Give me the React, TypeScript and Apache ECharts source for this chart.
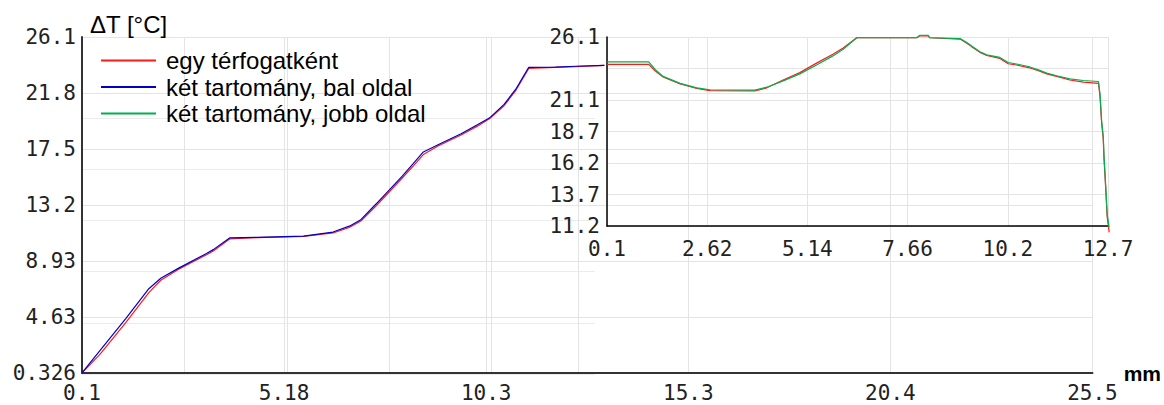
import React, { useEffect, useRef } from "react";
import * as echarts from "echarts";

// ---- main chart (0.1 .. 25.5 mm), visible left part of the curves ----
const mainX = [0.1, 0.55, 1.2, 1.78, 2.08, 2.53, 3.23, 3.4, 3.81, 4.51, 5.67, 6.41, 6.82, 7.11, 7.49, 8.15, 8.48, 8.68, 9.05, 9.63, 10.05, 10.34, 10.71, 11.0, 11.33, 12.0, 12.51, 13.23];
const mainRed = [0.33, 1.75, 4.2, 6.5, 7.45, 8.3, 9.4, 9.7, 10.62, 10.72, 10.82, 11.08, 11.5, 12.0, 13.15, 15.3, 16.4, 17.1, 17.75, 18.6, 19.3, 19.85, 20.85, 22.0, 23.72, 23.8, 23.85, 23.95];
const mainBlue = [0.33, 2.05, 4.5, 6.8, 7.6, 8.38, 9.5, 9.8, 10.7, 10.74, 10.84, 11.15, 11.6, 12.1, 13.3, 15.45, 16.6, 17.3, 17.85, 18.7, 19.4, 19.9, 20.95, 22.1, 23.8, 23.82, 23.88, 23.95];

// ---- inset chart (0.1 .. 12.7 mm) ----
const insetX = [0.1, 1.15, 1.31, 1.51, 1.94, 2.36, 2.69, 3.82, 4.12, 4.53, 4.95, 5.37, 5.78, 6.04, 6.38, 7.89, 7.97, 8.17, 8.22, 8.98, 9.15, 9.27, 9.48, 9.65, 9.98, 10.19, 10.4, 10.7, 10.95, 11.16, 11.41, 11.74, 12.08, 12.46, 12.5, 12.54, 12.58, 12.6, 12.64, 12.68, 12.73];
const insetGreen = [24.15, 24.15, 23.55, 23.0, 22.45, 22.1, 21.95, 21.92, 22.15, 22.65, 23.2, 23.9, 24.62, 25.15, 26.05, 26.05, 26.25, 26.25, 26.05, 25.98, 25.68, 25.4, 24.95, 24.7, 24.5, 24.1, 23.98, 23.78, 23.52, 23.26, 23.05, 22.8, 22.68, 22.6, 21.6, 19.5, 18.3, 16.7, 14.5, 12.1, 11.1];
const insetRed = [23.95, 23.95, 23.45, 22.95, 22.4, 22.05, 21.88, 21.86, 22.1, 22.72, 23.3, 24.05, 24.75, 25.25, 26.05, 26.05, 26.2, 26.2, 26.05, 25.95, 25.62, 25.35, 24.9, 24.65, 24.42, 24.0, 23.9, 23.7, 23.45, 23.2, 23.0, 22.72, 22.55, 22.45, 21.4, 19.3, 18.1, 16.5, 14.3, 11.9, 10.7];

const seriesNames = ["egy térfogatként", "két tartomány, bal oldal", "két tartomány, jobb oldal"];
const yTitle = "ΔT [°C]";
const xUnit = "mm";

// axis ranges
const mainXRange = { min: 0.1, max: 25.5, interval: 5.08 };
const mainYRange = { min: 0.326, max: 26.126, interval: 4.3 };
const insetXRange = { min: 0.1, max: 12.7, interval: 2.52 };
const insetYRange = { min: 11.2, max: 26.11, interval: 2.485 };

const RED = "#ff1a1a";
const BLUE = "#0000c8";
const GREEN = "#00b050";
const GRID = "#e4e4e4";
const MONO = "DejaVu Sans Mono";
const SANS = "Liberation Sans";

const zip = (xs: number[], ys: number[]) => xs.map((x, i) => [x, ys[i]]);
const fmt3 = (v: number) => String(Number(v.toPrecision(3)));

export default function App() {
  const ref = useRef<HTMLDivElement>(null);
  useEffect(() => {
    document.body.style.margin = "0";
    if (!ref.current) return;
    const chart = echarts.init(ref.current, null, { renderer: "svg" });
    const labelStyle = { fontFamily: MONO, fontSize: 21, color: "#222" };
    const lineSeries = (name: string, data: number[][], color: string, idx: number) => ({
      type: "line",
      name,
      data,
      xAxisIndex: idx,
      yAxisIndex: idx,
      symbol: "none",
      clip: false,
      lineStyle: { color, width: 1.2 },
      itemStyle: { color },
      z: 5,
    });
    chart.setOption({
      animation: false,
      backgroundColor: "#fff",
      grid: [
        { left: 82, right: 57, top: 37, bottom: 32 },
        { left: 607, right: 56, top: 37, bottom: 179 },
        { left: 82, width: 496, top: 37, bottom: 32 },
        { left: 82, width: 513, top: 118, bottom: 31 },
      ],
      legend: {
        data: seriesNames,
        orient: "vertical",
        left: 96,
        top: 43,
        itemWidth: 55,
        itemHeight: 2,
        itemGap: 1.5,
        icon: "rect",
        textStyle: { fontFamily: SANS, fontSize: 24, color: "#000", lineHeight: 25, padding: [0, 0, 0, 5] },
      },
      xAxis: [
        {
          type: "value",
          gridIndex: 0,
          ...mainXRange,
          name: xUnit,
          nameLocation: "end",
          nameGap: 14,
          nameTextStyle: { fontFamily: SANS, fontSize: 21, fontWeight: "bold", color: "#000", verticalAlign: "middle", padding: [0, 0, 6, 0] },
          axisLine: { onZero: false, lineStyle: { color: "#333", width: 2 } },
          axisTick: { show: false },
          axisLabel: { ...labelStyle, margin: 9, formatter: (v: number) => fmt3(v) },
          splitLine: { show: true, lineStyle: { color: GRID, width: 1 } },
        },
        {
          type: "value",
          gridIndex: 1,
          ...insetXRange,
          axisLine: { onZero: false, lineStyle: { color: "#000", width: 1.5 } },
          axisTick: { show: false },
          axisLabel: { ...labelStyle, margin: 12, formatter: (v: number) => fmt3(v) },
          splitLine: { show: true, lineStyle: { color: GRID, width: 1 } },
        },
        {
          type: "value",
          gridIndex: 2,
          min: 0.1,
          max: 12.4,
          interval: 2.54,
          axisLine: { show: false },
          axisTick: { show: false },
          axisLabel: { show: false },
          splitLine: { show: true, lineStyle: { color: GRID, width: 1 } },
        },
        {
          type: "value",
          gridIndex: 3,
          min: 0,
          max: 1,
          axisLine: { show: false },
          axisTick: { show: false },
          axisLabel: { show: false },
          splitLine: { show: false },
        },
      ],
      yAxis: [
        {
          type: "value",
          gridIndex: 0,
          ...mainYRange,
          name: yTitle,
          nameLocation: "end",
          nameGap: 13,
          nameTextStyle: { fontFamily: SANS, fontSize: 24, color: "#000", align: "left", verticalAlign: "middle", padding: [0, 0, 0, 8] },
          axisLine: { onZero: false, lineStyle: { color: "#333", width: 2 } },
          axisTick: { show: false },
          axisLabel: { ...labelStyle, margin: 6, formatter: (v: number) => fmt3(v) },
          splitLine: { show: true, lineStyle: { color: GRID, width: 1 } },
        },
        {
          type: "value",
          gridIndex: 1,
          ...insetYRange,
          axisLine: { onZero: false, lineStyle: { color: "#000", width: 1.5 } },
          axisTick: { show: false },
          axisLabel: {
            ...labelStyle,
            margin: 7,
            formatter: (v: number, i: number) => (i === 5 ? "" : fmt3(v)),
          },
          splitLine: { show: true, lineStyle: { color: GRID, width: 1 } },
        },
        {
          type: "value",
          gridIndex: 2,
          min: 0,
          max: 1,
          axisLine: { show: false },
          axisTick: { show: false },
          axisLabel: { show: false },
          splitLine: { show: false },
        },
        {
          type: "value",
          gridIndex: 3,
          min: 0,
          max: 5,
          interval: 1,
          axisLine: { show: false },
          axisTick: { show: false },
          axisLabel: { show: false },
          splitLine: { show: true, lineStyle: { color: "#ececec", width: 1 } },
        },
      ],
      series: [
        lineSeries(seriesNames[0], zip(mainX, mainRed), RED, 0),
        lineSeries(seriesNames[1], zip(mainX, mainBlue), BLUE, 0),
        lineSeries(seriesNames[0], zip(insetX, insetRed), RED, 1),
        lineSeries(seriesNames[2], zip(insetX, insetGreen), GREEN, 1),
      ],
    });
    return () => chart.dispose();
  }, []);
  return <div ref={ref} style={{ width: 1164, height: 405 }} />;
}
